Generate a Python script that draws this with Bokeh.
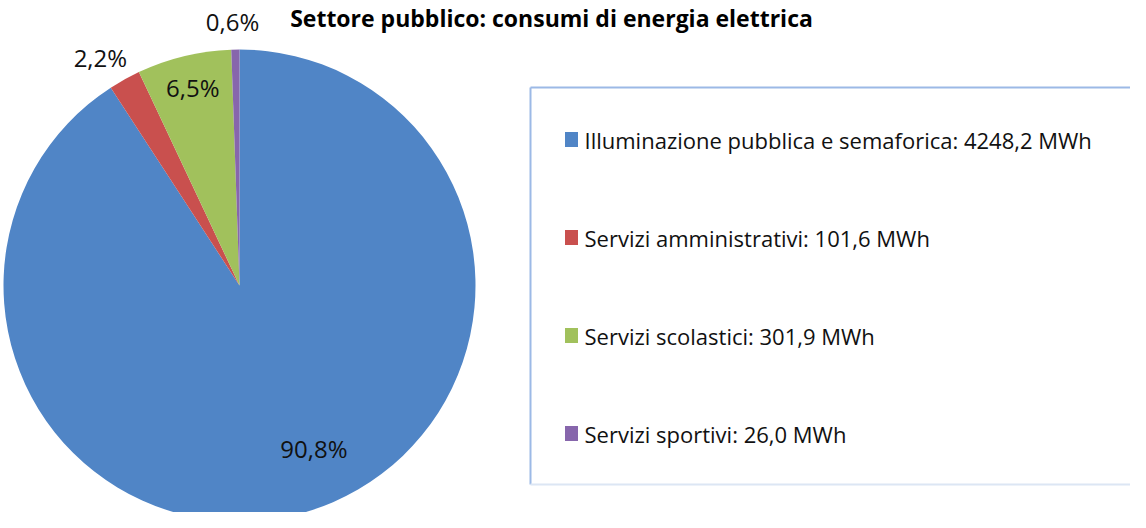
import math
from bokeh.plotting import figure
from bokeh.models import Range1d
from bokeh.core.properties import value
from bokeh.embed import file_html
from bokeh.resources import INLINE

# ---- data ----
title_text = "Settore pubblico: consumi di energia elettrica"
categories = ["Illuminazione pubblica e semaforica", "Servizi amministrativi",
              "Servizi scolastici", "Servizi sportivi"]
consumi_mwh = [4248.2, 101.6, 301.9, 26.0]
unit = "MWh"

# ---- style / layout ----
colors = ["#5085C6", "#C9504E", "#A1C15C", "#8766AC"]
W, H = 1130, 512
FONT = "Open Sans"

def ry(y):  # reference-image y (top-down, page coords) -> figure y (bottom-up)
    return 520 - y

def rx(x):
    return x - 8

cx, cy, R = rx(247), ry(293), 236
label_rfac = [0.76, 1.13, 0.86, 1.12]
label_dang = [-8.0, -2.3, 0.3, -0.5]

p = figure(width=W, height=H, output_backend="svg", toolbar_location=None,
           x_range=Range1d(0, W), y_range=Range1d(0, H),
           x_axis_type=None, y_axis_type=None, min_border=0)
p.grid.visible = False
p.outline_line_color = None
p.background_fill_color = "white"
p.border_fill_color = "white"

total = sum(consumi_mwh)
fracs = [v / total for v in consumi_mwh]

cum = 0.0
lx, ly, ltxt = [], [], []
starts, ends = [], []
for i, f in enumerate(fracs):
    a0 = math.pi / 2 - cum * 2 * math.pi
    a1 = math.pi / 2 - (cum + f) * 2 * math.pi
    starts.append(a0)
    ends.append(a1)
    mid_cw_deg = (cum + f / 2) * 360 + label_dang[i]
    r = R * label_rfac[i]
    lx.append(cx + r * math.sin(math.radians(mid_cw_deg)))
    ly.append(cy + r * math.cos(math.radians(mid_cw_deg)))
    ltxt.append(f"{f * 100:.1f}".replace(".", ",") + "%")
    cum += f

p.wedge(x=cx, y=cy, radius=R, start_angle=starts, end_angle=ends,
        direction="clock", fill_color=colors, line_color=None)

p.text(x=lx, y=ly, text=ltxt, text_align="center", text_baseline="middle",
       text_font=value(FONT), text_font_size="24px", text_color="#111111")

# title
p.text(x=[rx(559)], y=[ry(25)], text=[title_text], text_align="center",
       text_baseline="middle", text_font=value(FONT), text_font_size="23px",
       text_font_style="bold", text_color="#000000")

# legend box
bl, bt, bb, br = rx(538), ry(95), ry(492), W + 20
p.segment(x0=[bl, bl], y0=[bt, bt], x1=[br, bl], y1=[bt, bb],
          line_color="#9CB9E6", line_width=2)
p.segment(x0=[bl], y0=[bb], x1=[br], y1=[bb], line_color="#DCE6F4", line_width=2)

# legend entries
leg_y = [ry(147) - i * 98 for i in range(len(categories))]
leg_labels = [f"{c}: " + f"{v:.1f}".replace(".", ",") + f" {unit}"
              for c, v in zip(categories, consumi_mwh)]
p.rect(x=[rx(579)] * len(categories), y=leg_y, width=13, height=15,
       fill_color=colors, line_color=None)
p.text(x=[rx(592)] * len(categories), y=leg_y, text=leg_labels,
       text_align="left", text_baseline="middle", text_font=value(FONT),
       text_font_size="22px", text_color="#111111")

open("out.html", "w").write(file_html(p, INLINE))
